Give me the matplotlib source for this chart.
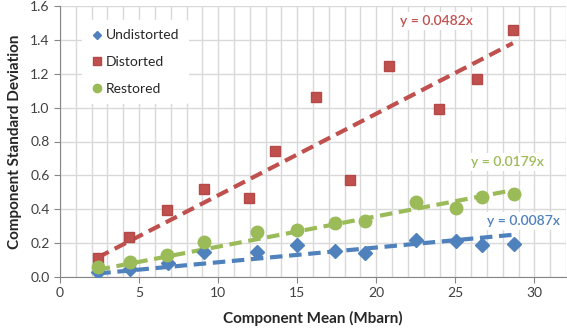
import matplotlib
matplotlib.use("Agg")
import matplotlib.pyplot as plt
import numpy as np
from matplotlib.ticker import MultipleLocator

plt.rcParams['font.family'] = ['Lato', 'DejaVu Sans']

und_x = [2.42, 4.42, 6.84, 9.10, 12.43, 15.00, 17.40, 19.30, 22.50, 25.06, 26.70, 28.74]
und_y = [0.031, 0.046, 0.081, 0.150, 0.150, 0.190, 0.154, 0.144, 0.219, 0.215, 0.190, 0.194]
dis_x = [2.38, 4.38, 6.78, 9.10, 11.94, 13.58, 16.17, 18.36, 20.78, 23.96, 26.38, 28.64]
dis_y = [0.110, 0.239, 0.397, 0.520, 0.466, 0.743, 1.063, 0.571, 1.246, 0.990, 1.167, 1.458]
res_x = [2.38, 4.42, 6.78, 9.10, 12.43, 15.00, 17.40, 19.30, 22.50, 25.06, 26.70, 28.70]
res_y = [0.057, 0.091, 0.130, 0.209, 0.268, 0.278, 0.318, 0.328, 0.443, 0.407, 0.470, 0.490]
slopes = {'Undistorted': 0.0087, 'Distorted': 0.0482, 'Restored': 0.0179}

blue = '#4F81BD'
red = '#C0504D'
green = '#9BBB59'

fig = plt.figure(figsize=(5.67, 3.30), dpi=100)
ax = fig.add_axes([60/567, 1 - 277/330, 506/567, 271/330])

ax.set_xlim(0, 32)
ax.set_ylim(0, 1.6)
ax.xaxis.set_major_locator(MultipleLocator(5))
ax.xaxis.set_minor_locator(MultipleLocator(1))
ax.yaxis.set_major_locator(MultipleLocator(0.2))
ax.grid(True, which='major', color='#D9D9D9', lw=1)
ax.grid(True, which='minor', axis='x', color='#D9D9D9', lw=1)
ax.set_axisbelow(True)

for s in ['top', 'right']:
    ax.spines[s].set_visible(False)
for s in ['left', 'bottom']:
    ax.spines[s].set_color('#868686')
ax.tick_params(which='major', length=4, color='#868686', labelsize=10, labelcolor='#404040')
ax.tick_params(which='minor', length=0)
ax.yaxis.set_major_formatter(matplotlib.ticker.FormatStrFormatter('%.1f'))

# trendlines
for xs, key, c in [(und_x, 'Undistorted', blue), (dis_x, 'Distorted', red), (res_x, 'Restored', green)]:
    xx = np.array([min(xs), max(xs)])
    ax.plot(xx, slopes[key] * xx, ls=(0, (3, 1.6)), lw=3, color=c, zorder=2)

ax.plot(und_x, und_y, 'D', ms=7, color=blue, mec=blue, label='Undistorted', zorder=3, ls='none')
ax.plot(dis_x, dis_y, 's', ms=7.5, color=red, mec='#B34A47', label='Distorted', zorder=3, ls='none')
ax.plot(res_x, res_y, 'o', ms=9, color=green, mec=green, label='Restored', zorder=3, ls='none')

bbox = dict(facecolor='white', edgecolor='none', pad=2)
ax.text(23.8, 1.51, 'y = 0.0482x', color=red, fontsize=10, fontweight='semibold', ha='center', va='center', bbox=bbox)
ax.text(28.3, 0.68, 'y = 0.0179x', color=green, fontsize=10, fontweight='semibold', ha='center', va='center', bbox=bbox)
ax.text(29.3, 0.33, 'y = 0.0087x', color=blue, fontsize=10, fontweight='semibold', ha='center', va='center', bbox=bbox)

leg = ax.legend(loc='upper left', bbox_to_anchor=(0.03, 0.975), frameon=True, fontsize=10,
                handletextpad=0.2, labelspacing=1.05, handlelength=0.8, borderpad=0.7)
leg.get_frame().set_edgecolor('none')
leg.get_frame().set_facecolor('white')
leg.get_frame().set_alpha(1)
for h, ms in zip(leg.legend_handles, [4.5, 6, 6]):
    h.set_markersize(ms)
for t in leg.get_texts():
    t.set_color('#262626')

ax.set_xlabel('Component Mean (Mbarn)', fontsize=11, fontweight='bold', color='#262626', labelpad=8)
ax.set_ylabel('Component Standard Deviation', fontsize=11, fontweight='bold', color='#262626', labelpad=6)

fig.savefig('out.png', dpi=100)
